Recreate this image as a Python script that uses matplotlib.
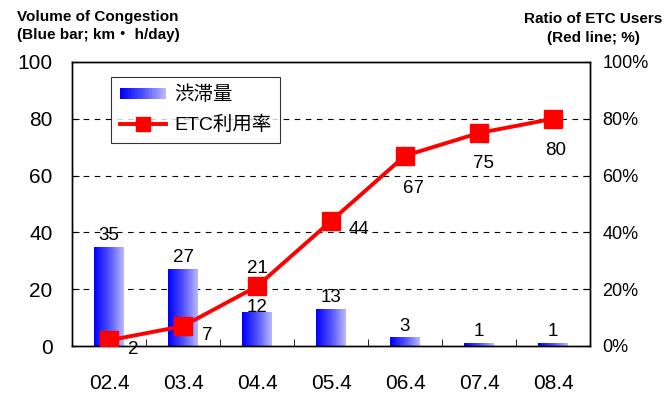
import numpy as np
import matplotlib
matplotlib.use("Agg")
import matplotlib.pyplot as plt
from matplotlib.patches import Rectangle
from matplotlib.lines import Line2D
from matplotlib.legend_handler import HandlerBase
from matplotlib.colors import LinearSegmentedColormap

plt.rcParams['font.family'] = ['Liberation Sans', 'Noto Sans CJK JP', 'DejaVu Sans']

# data
periods = ["02.4", "03.4", "04.4", "05.4", "06.4", "07.4", "08.4"]
congestion = [35, 27, 12, 13, 3, 1, 1]        # km・h/day
etc_ratio = [2, 7, 21, 44, 67, 75, 80]        # %

blue_grad = LinearSegmentedColormap.from_list("bg", ["#0000ff", "#5050ff", "#b8b8ff"])


class GradientHandler(HandlerBase):
    # legend key drawn as vertical stripes going blue -> pale
    def create_artists(self, legend, orig_handle, xdescent, ydescent,
                       width, height, fontsize, trans):
        n = 30
        arts = []
        for i in range(n):
            r = Rectangle((-xdescent + width * i / n, -ydescent + height * 0.05),
                          width / n * 1.05, height * 0.9,
                          facecolor=blue_grad(i / (n - 1)), edgecolor="none",
                          transform=trans)
            arts.append(r)
        return arts


fig = plt.figure(figsize=(6.67, 3.94), dpi=100)
ax = fig.add_axes([72 / 667, 48 / 394, 518 / 667, 284 / 394])
ax2 = ax.twinx()

x = np.arange(len(periods))
bars = ax.bar(x, congestion, width=0.4, facecolor="none", edgecolor="none", zorder=2)
grad = np.linspace(0, 1, 64).reshape(1, -1)
for b in bars:
    bx, by = b.get_x(), b.get_y()
    im = ax.imshow(grad, cmap=blue_grad, aspect="auto", zorder=2,
                   extent=[bx, bx + b.get_width(), by, by + b.get_height()])
    im.set_clip_path(b)

# bar labels: gap above bar top in points
bar_gap = [5, 5, 0, 5, 5, 5, 5]
for xi, v, g in zip(x, congestion, bar_gap):
    ax.annotate(str(v), (xi, v), xytext=(0, g), textcoords="offset points",
                ha="center", va="baseline", fontsize=13.5)

ax.set_xlim(-0.5, len(periods) - 0.5)
ax.set_ylim(0, 100)
ax.set_yticks(range(0, 101, 20))
ax.set_xticks(x)
ax.set_xticklabels(periods, fontsize=15)
ax.set_xticks(np.arange(0.5, len(periods) - 0.5, 1), minor=True)
ax.tick_params(axis="x", which="major", length=0, pad=20)
ax.tick_params(axis="x", which="minor", direction="in", length=5)
ax.tick_params(axis="y", direction="in", length=5, labelsize=15, pad=14)
for yv in [20, 40, 60, 80]:
    ax.axhline(yv, color="black", linestyle=(0, (5, 5)), linewidth=0.8, zorder=1)

ax2.plot(x, etc_ratio, color="red", linewidth=2.8, marker="s", markersize=13,
         zorder=3)
ax2.set_ylim(0, 100)
ax2.set_yticks(range(0, 101, 20))
ax2.set_yticklabels([f"{v}%" for v in range(0, 101, 20)])
ax2.tick_params(axis="y", direction="in", length=5, labelsize=13, pad=9)

# line value labels: (dx, dy) in points from the marker, alignment
offsets = [(13.5, -10, "left"), (13.5, -10, "left"), (0, 9.5, "center"),
           (13, -9.5, "left"), (-1.5, -27, "left"), (3, -25.5, "center"),
           (2, -26, "center")]
for xi, v, (dx, dy, ha) in zip(x, etc_ratio, offsets):
    ax2.annotate(str(v), (xi, v), xytext=(dx, dy), textcoords="offset points",
                 ha=ha, va="baseline", fontsize=13.5)

for a in (ax, ax2):
    for s in a.spines.values():
        s.set_linewidth(1.0)

fig.text(17 / 667, 1 - 26 / 394, "Volume of Congestion\n(Blue bar; km・ h/day)",
         fontsize=11, fontweight="bold", va="center", ha="left", linespacing=1.4)
fig.text(593 / 667, 1 - 28.5 / 394, "Ratio of ETC Users\n(Red line; %)",
         fontsize=11, fontweight="bold", va="center", ha="center", linespacing=1.45)

bar_key = Rectangle((0, 0), 1, 1)
line_key = Line2D([], [], color="red", linewidth=2.8, marker="s", markersize=10)
leg = ax.legend([bar_key, line_key], ["渋滞量", "ETC利用率"],
                handler_map={Rectangle: GradientHandler()},
                loc="upper left", bbox_to_anchor=(39 / 518, 1 - 15 / 284),
                fontsize=14, frameon=True, fancybox=False, edgecolor="black",
                handlelength=2.4, handleheight=0.6, handletextpad=0.4,
                borderpad=0.45, labelspacing=0.6, borderaxespad=0)
leg.get_frame().set_linewidth(0.8)
leg.set_zorder(5)

fig.savefig("out.png", dpi=100)
